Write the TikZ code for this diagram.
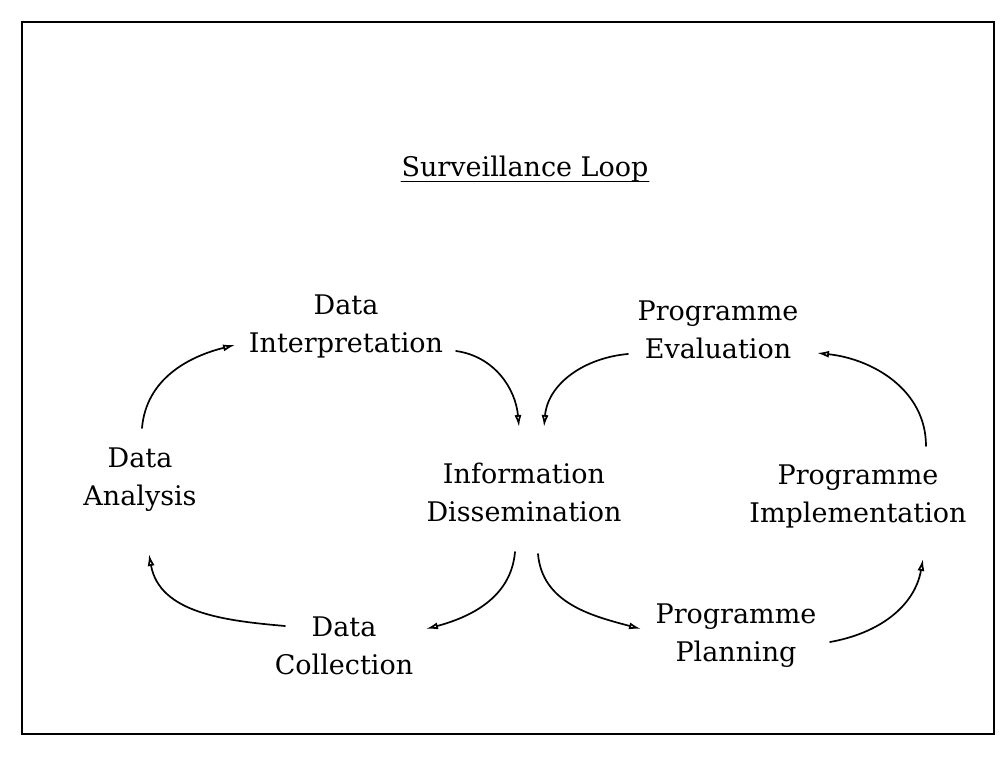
\documentclass[tikz,border=0pt]{standalone}
\usepackage{fontspec}
\setmainfont{DejaVu Serif}
\usetikzlibrary{arrows.meta,calc}

\begin{document}
\begin{tikzpicture}[x=1pt, y=1pt, line cap=round,
  stagenode/.style={align=center, font=\fontsize{27}{38}\selectfont, inner sep=0pt},
  looparrow/.style={-{Latex[open, length=12pt, width=7pt]}, line width=1.7pt}]
  \useasboundingbox (0,0) rectangle (1005,756);
  % Frame
  \draw[line width=2.2pt] (22,22) rectangle (994,734);

  % Title
  \node[stagenode] (title) at (525,587) {Surveillance Loop};
  \draw[line width=1.8pt] ([yshift=-5pt]title.base west) -- ([yshift=-5pt]title.base east);

  % Stages of the loop
  \node[stagenode] (intp) at (346,430) {Data\\Interpretation};
  \node[stagenode] (eval) at (718,426) {Programme\\Evaluation};
  \node[stagenode] (ana)  at (140,276) {Data\\Analysis};
  \node[stagenode] (info) at (524,264) {Information\\Dissemination};
  \node[stagenode] (impl) at (858,260) {Programme\\Implementation};
  \node[stagenode] (coll) at (344,110) {Data\\Collection};
  \node[stagenode] (plan) at (736,120) {Programme\\Planning};

  % Left loop
  \draw[looparrow] ($(ana)+(2,52)$) to[out=85, in=194] ($(intp)+(-111,-19)$);
  \draw[looparrow] ($(intp)+(110,-25)$) to[out=-8, in=95] ($(info)+(-5,65)$);
  \draw[looparrow] ($(info)+(-9,-60)$) to[out=-95, in=15] ($(coll)+(82,17)$);
  \draw[looparrow] ($(coll)+(-59,20)$) to[out=175, in=-80] ($(ana)+(9,-74)$);

  % Right loop
  \draw[looparrow] ($(info)+(14,-62)$) to[out=-85, in=165] ($(plan)+(-95,7)$);
  \draw[looparrow] ($(plan)+(94,-6)$) to[out=10, in=-100] ($(impl)+(65,-63)$);
  \draw[looparrow] ($(impl)+(68,50)$) to[out=90, in=-6] ($(eval)+(99,-23)$);
  \draw[looparrow] ($(eval)+(-90,-24)$) to[out=185, in=85] ($(info)+(20,65)$);
\end{tikzpicture}
\end{document}
